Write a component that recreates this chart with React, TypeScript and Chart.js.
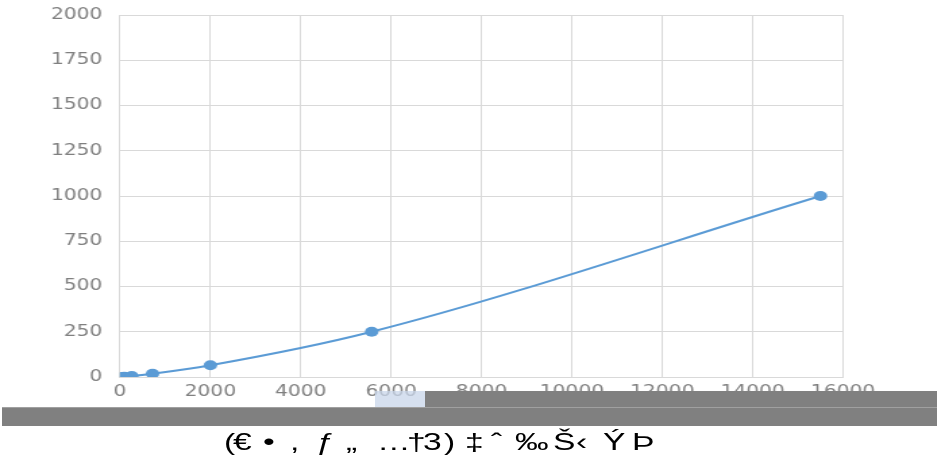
import React, { useEffect, useRef } from "react";
import { Chart, registerables } from "chart.js";

Chart.register(...registerables);

// ---- data ----
const xValues = [0, 95, 260, 720, 2000, 5570, 15500];
const yValues = [0, 2, 5, 18, 65, 250, 1000];
const xTickMin = 0;
const xTickMax = 16000;
const xTickStep = 2000;
const yTickMin = 0;
const yTickMax = 2000;
const yTickStep = 250;
// caption text pieces (one line of text under the chart)
const captionParts = ["(", "€", "•", ",", "ƒ", "„", "…", "†", "3", ")", "‡", "ˆ", "‰", "Š", "‹", "Ý", "Þ"];
const captionLefts = [224, 233, 263, 290, 316, 346, 377, 407, 423, 444, 465, 491, 515, 553, 576, 603, 632];

// ---- layout (the reference is horizontally stretched) ----
const SX = 1.35;
const CSS_W = 937;
const INNER_W = CSS_W / SX;
const CHART_H = 400;
const PLOT_LEFT = 120;
const PLOT_RIGHT = 843;

export default function App() {
  const canvasRef = useRef<HTMLCanvasElement | null>(null);

  useEffect(() => {
    if (!canvasRef.current) return;
    const points = xValues.map((x, i) => ({ x, y: yValues[i] }));
    const tickFont = { family: "'DejaVu Sans', Verdana, sans-serif", size: 15 };
    const plain = (v: any) => String(v);
    const chart = new Chart(canvasRef.current, {
      type: "line",
      data: {
        datasets: [
          {
            data: points,
            borderColor: "#5B9BD5",
            backgroundColor: "#5B9BD5",
            pointBackgroundColor: "#5B9BD5",
            pointBorderColor: "#5B9BD5",
            pointBorderWidth: 0,
            pointRadius: 5,
            borderWidth: 2,
            tension: 0.4,
            cubicInterpolationMode: "monotone",
            fill: false,
            clip: 0,
          } as any,
        ],
      },
      options: {
        animation: false,
        responsive: true,
        maintainAspectRatio: false,
        layout: {
          padding: { left: 0, right: INNER_W - PLOT_RIGHT / SX, top: 15, bottom: 0 },
        },
        plugins: {
          legend: { display: false },
          tooltip: { enabled: false },
          title: { display: false },
        },
        scales: {
          x: {
            type: "linear",
            min: xTickMin,
            max: xTickMax,
            ticks: {
              stepSize: xTickStep,
              color: "#808080",
              font: tickFont,
              padding: 6,
              maxRotation: 0,
              callback: plain,
            },
            grid: { color: "#d9d9d9", drawTicks: false, lineWidth: 1 },
            border: { color: "#d9d9d9" },
            afterFit: (scale: any) => {
              scale.height = 23;
            },
          },
          y: {
            type: "linear",
            min: yTickMin,
            max: yTickMax,
            ticks: {
              stepSize: yTickStep,
              color: "#808080",
              font: tickFont,
              padding: 13,
              callback: plain,
            },
            grid: { color: "#d9d9d9", drawTicks: false, lineWidth: 1 },
            border: { color: "#d9d9d9" },
            afterFit: (scale: any) => {
              scale.width = PLOT_LEFT / SX;
              scale.paddingTop = 0;
              scale.paddingBottom = 0;
            },
          },
        },
      },
    });
    return () => chart.destroy();
  }, []);

  return (
    <div
      style={{
        position: "fixed",
        left: 0,
        top: 0,
        width: CSS_W,
        height: 472,
        background: "#ffffff",
        overflow: "hidden",
      }}
    >
      <div
        style={{
          position: "absolute",
          left: 0,
          top: 0,
          width: INNER_W,
          height: CHART_H,
          transform: `scaleX(${SX})`,
          transformOrigin: "0 0",
        }}
      >
        <canvas ref={canvasRef} />
      </div>
      {/* overlay bars */}
      <div style={{ position: "absolute", left: 425, top: 391, width: 512, height: 16, background: "#808080" }} />
      <div style={{ position: "absolute", left: 375, top: 391, width: 50, height: 16, background: "rgba(200,214,234,0.75)" }} />
      <div style={{ position: "absolute", left: 2, top: 407, width: 935, height: 19, background: "#808080", borderTop: "1px solid #a0a0a0", boxSizing: "border-box" }} />
      {captionParts.map((t, i) => (
        <span
          key={i}
          style={{
            position: "absolute",
            left: captionLefts[i],
            top: 425,
            whiteSpace: "pre",
            fontFamily: "'Liberation Sans', Arial, sans-serif",
            fontSize: 24,
            lineHeight: "34px",
            color: "#000000",
            letterSpacing: 1,
            transform: "scaleX(1.4)",
            transformOrigin: "0 0",
          }}
        >
          {t}
        </span>
      ))}
    </div>
  );
}
